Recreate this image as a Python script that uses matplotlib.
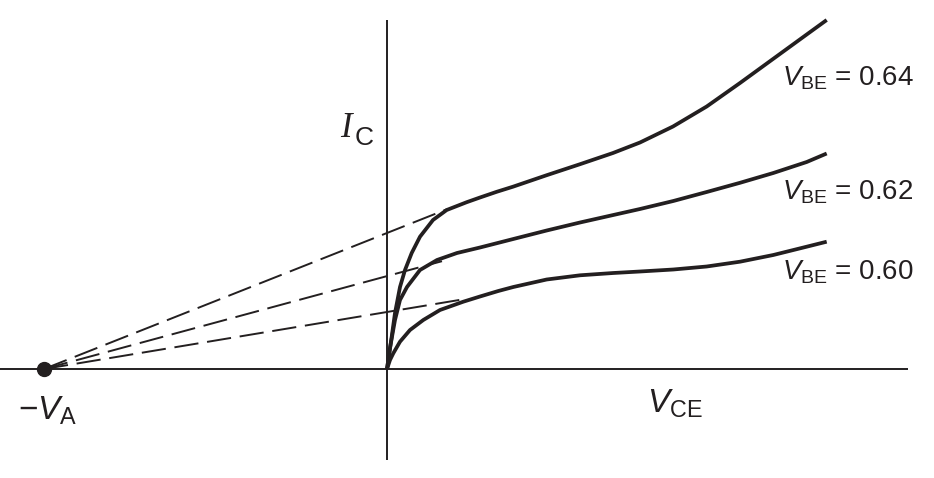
import matplotlib
matplotlib.use('Agg')
import matplotlib.pyplot as plt

plt.rcParams['font.family'] = ['Liberation Sans', 'DejaVu Sans']
plt.rcParams['mathtext.fontset'] = 'custom'
plt.rcParams['mathtext.rm'] = 'Liberation Sans'
plt.rcParams['mathtext.it'] = 'Liberation Sans:italic'

# Early voltage (arbitrary units, V_CE axis)
va = 3.43

# I_C vs V_CE for three V_BE values (arbitrary units)
vce_64 = [0, 0.047, 0.08, 0.13, 0.18, 0.247, 0.33, 0.46, 0.597, 0.797, 0.93, 1.097,
          1.26, 1.597, 1.93, 2.26, 2.53, 2.86, 3.197, 3.53, 3.86, 4.197, 4.397]
ic_64 = [0, 0.323, 0.56, 0.82, 0.99, 1.16, 1.323, 1.49, 1.59, 1.668, 1.715, 1.772,
         1.823, 1.938, 2.048, 2.16, 2.265, 2.425, 2.625, 2.86, 3.10, 3.345, 3.49]

vce_62 = [0, 0.03, 0.08, 0.13, 0.20, 0.33, 0.50, 0.70, 0.93, 1.263, 1.597, 1.93,
          2.263, 2.53, 2.863, 3.197, 3.53, 3.863, 4.197, 4.397]
ic_62 = [0, 0.21, 0.49, 0.69, 0.82, 0.99, 1.09, 1.16, 1.215, 1.30, 1.385, 1.465,
         1.54, 1.60, 1.68, 1.77, 1.862, 1.96, 2.07, 2.155]

vce_60 = [0, 0.03, 0.063, 0.13, 0.23, 0.363, 0.53, 0.763, 0.93, 1.113, 1.263, 1.597,
          1.93, 2.263, 2.53, 2.863, 3.197, 3.53, 3.863, 4.197, 4.397]
ic_60 = [0, 0.09, 0.157, 0.273, 0.39, 0.49, 0.59, 0.673, 0.725, 0.78, 0.82, 0.895,
         0.937, 0.96, 0.975, 0.995, 1.025, 1.073, 1.14, 1.223, 1.273]

# points where the extrapolated (dashed) lines touch each curve
tangent_vce = [0.60, 0.55, 0.80]
tangent_ic = [1.598, 1.078, 0.703]

labels = ['$V_{\\mathrm{BE}}$ = 0.64', '$V_{\\mathrm{BE}}$ = 0.62', '$V_{\\mathrm{BE}}$ = 0.60']

ink = '#231f20'

fig = plt.figure(figsize=(9.34, 4.78), dpi=100)
ax = fig.add_axes([0, 0, 1, 1])
ax.set_xlim(-3.87, 5.47)
ax.set_ylim(-1.09, 3.69)
ax.axis('off')

# axes
ax.plot([-3.87, 5.21], [0, 0], color=ink, lw=1.4, solid_capstyle='butt')
ax.plot([0, 0], [-0.91, 3.49], color=ink, lw=1.4, solid_capstyle='butt')

# dashed extrapolations back to -V_A
for tx, ty in zip(tangent_vce, tangent_ic):
    ax.plot([-va, tx], [0, ty], color=ink, lw=1.4, dashes=(12.5, 4.5))

for x, y in [(vce_64, ic_64), (vce_62, ic_62), (vce_60, ic_60)]:
    ax.plot(x, y, color=ink, lw=2.7, solid_joinstyle='round', solid_capstyle='butt')

ax.plot([-va], [0], 'o', color=ink, markersize=10)

# labels
for lab, yb in zip(labels, [2.84, 1.69, 0.89]):
    ax.text(3.95, yb, lab, fontsize=20, color=ink, va='baseline', ha='left')

ax.text(2.60, -0.44, '$V_{\\mathrm{CE}}$', fontsize=24, color=ink, va='baseline')
ax.text(-3.69, -0.51, '\u2212$V_{\\mathrm{A}}$', fontsize=24, color=ink, va='baseline')
ax.text(-0.47, 2.32, 'I', fontsize=25, color=ink, va='baseline',
        family='Liberation Serif', style='italic')
ax.text(-0.32, 2.24, 'C', fontsize=19, color=ink, va='baseline')

fig.savefig('out.png', dpi=100)
